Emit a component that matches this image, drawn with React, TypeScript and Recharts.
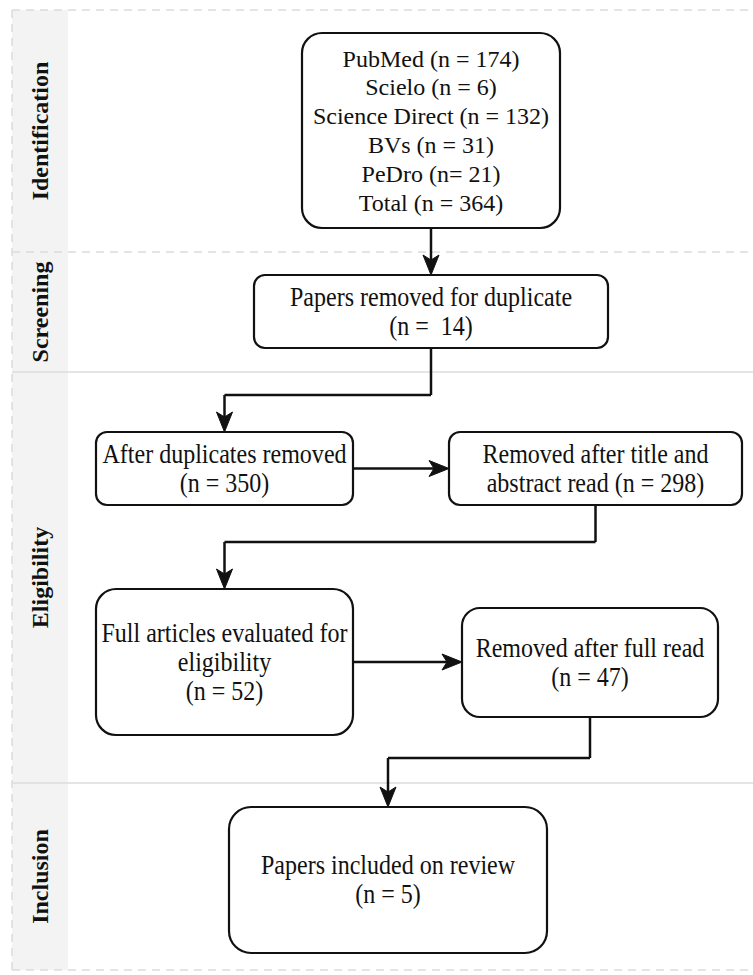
import React from "react";
import {
  ScatterChart, Scatter, XAxis, YAxis, ReferenceArea, ReferenceLine, ReferenceDot,
} from "recharts";

const W = 753;
const H = 975;
const SERIF = '"Liberation Serif", "Times New Roman", Times, serif';
const INK = "#111";
const RULE = "#dcdcdc";

// ---- data ----
const PHASES = ["Identification", "Screening", "Eligibility", "Inclusion"];

const SOURCE_TEXT = ["PubMed (n = {n})", "Scielo (n = {n})", "Science Direct (n = {n})", "BVs (n = {n})", "PeDro (n= {n})"];
const SOURCE_N = [174, 6, 132, 31, 21];
const TOTAL_TEXT = "Total (n = {n})";
const TOTAL_N = 364;

const STEP_IDS = ["dup", "after", "titleAbs", "full", "fullOut", "included"];
const STEP_TEXT = [
  ["Papers removed for duplicate", "(n =  {n})"],
  ["After duplicates removed", "(n = {n})"],
  ["Removed after title and", "abstract read (n = {n})"],
  ["Full articles evaluated for", "eligibility", "(n = {n})"],
  ["Removed after full read", "(n = {n})"],
  ["Papers included on review", "(n = {n})"],
];
const STEP_N = [14, 350, 298, 52, 47, 5];

const LINKS: [string, string][] = [
  ["search", "dup"],
  ["dup", "after"],
  ["after", "titleAbs"],
  ["titleAbs", "full"],
  ["full", "fullOut"],
  ["fullOut", "included"],
];

// ---- layout (diagram units, mapped through the chart scales) ----
const PHASE_Y = [10, 252, 372, 783, 970];
const BAND_X = [12, 68];
const DASHED_RULES = [true, true, false, false, true];

type Box = { x1: number; x2: number; y1: number; y2: number; r: number };
const BOX: Record<string, Box> = {
  search:   { x1: 302, x2: 560, y1: 33,  y2: 228, r: 20 },
  dup:      { x1: 254, x2: 608, y1: 275, y2: 348, r: 11 },
  after:    { x1: 96,  x2: 353, y1: 432, y2: 505, r: 11 },
  titleAbs: { x1: 449, x2: 742, y1: 432, y2: 505, r: 11 },
  full:     { x1: 96,  x2: 353, y1: 589, y2: 735, r: 20 },
  fullOut:  { x1: 462, x2: 718, y1: 608, y2: 717, r: 18 },
  included: { x1: 229, x2: 547, y1: 807, y2: 953, r: 22 },
};
// elbow height for links that turn; undefined = straight link
const ELBOW: Record<string, number | undefined> = {
  dup: undefined, after: 395, titleAbs: undefined, full: 542, fullOut: undefined, included: 758,
};

const ARROW_LEN = 20;
const ARROW_W = 16;
const ARROW_NOTCH = 5;

// first box is set in plain 24px, the others in a taller, narrowed face
const TEXT_STYLE: Record<string, { size: number; sx: number; lh: number; dy: number }> = {
  search: { size: 24, sx: 1, lh: 28.8, dy: 8 },
  step:   { size: 27, sx: 0.89, lh: 29, dy: 9 },
};

const fmt = (t: string, n: number) => t.replace("{n}", String(n));

function nodeLines(id: string): string[] {
  if (id === "search") {
    return [...SOURCE_TEXT.map((t, i) => fmt(t, SOURCE_N[i])), fmt(TOTAL_TEXT, TOTAL_N)];
  }
  const i = STEP_IDS.indexOf(id);
  return STEP_TEXT[i].map(t => fmt(t, STEP_N[i]));
}

type Pt = { x: number; y: number };

function route(from: string, to: string): { pts: Pt[]; angle: number } {
  const a = BOX[from], b = BOX[to];
  const ax = (a.x1 + a.x2) / 2, bx = (b.x1 + b.x2) / 2;
  const elbow = ELBOW[to];
  const back = ARROW_LEN - ARROW_NOTCH;
  if (b.x1 > a.x2) {
    const y = (a.y1 + a.y2) / 2;
    return { pts: [{ x: a.x2, y }, { x: b.x1 - back, y }], angle: 0 };
  }
  if (elbow === undefined || Math.abs(ax - bx) < 1) {
    return { pts: [{ x: ax, y: a.y2 }, { x: bx, y: b.y1 - back }], angle: 90 };
  }
  return {
    pts: [{ x: ax, y: a.y2 }, { x: ax, y: elbow }, { x: bx, y: elbow }, { x: bx, y: b.y1 - back }],
    angle: 90,
  };
}

function tipOf(from: string, to: string): Pt {
  const a = BOX[from], b = BOX[to];
  if (b.x1 > a.x2) return { x: b.x1, y: (a.y1 + a.y2) / 2 };
  return { x: (b.x1 + b.x2) / 2, y: b.y1 };
}

const NodeShape = (id: string) => (p: any) => {
  const { x, y, width, height } = p;
  const lines = nodeLines(id);
  const r = BOX[id].r;
  const ts = TEXT_STYLE[id === "search" ? "search" : "step"];
  const cx = x + width / 2;
  const cy = y + height / 2;
  const top = cy - ((lines.length - 1) * ts.lh) / 2;
  return (
    <g>
      <rect x={x} y={y} width={width} height={height} rx={r} ry={r}
        fill="#fff" stroke={INK} strokeWidth={2.2} />
      <g transform={`translate(${cx} 0) scale(${ts.sx} 1)`}>
        <text x={0} textAnchor="middle" fontFamily={SERIF} fontSize={ts.size} fill={INK}
          xmlSpace="preserve" style={{ whiteSpace: "pre" }}>
          {lines.map((l, i) => (
            <tspan key={i} x={0} y={top + i * ts.lh + ts.dy}>{l}</tspan>
          ))}
        </text>
      </g>
    </g>
  );
};

const PhaseShape = (name: string) => (p: any) => {
  const { x, y, width, height } = p;
  const cx = x + width / 2;
  const cy = y + height / 2;
  return (
    <g>
      <rect x={x} y={y} width={width} height={height} fill="#f3f3f3" />
      <text x={cx} y={cy} transform={`rotate(-90 ${cx} ${cy})`} textAnchor="middle"
        dominantBaseline="central" fontFamily={SERIF} fontWeight={700} fontSize={24} fill={INK}>
        {name}
      </text>
    </g>
  );
};

const ArrowShape = (angle: number) => (p: any) => {
  const { cx, cy } = p;
  const L = ARROW_LEN, w = ARROW_W / 2;
  return (
    <path transform={`translate(${cx} ${cy}) rotate(${angle})`}
      d={`M0,0 L${-L},${-w} L${-L + ARROW_NOTCH},0 L${-L},${w} Z`} fill={INK} stroke={INK}
      strokeWidth={1} />
  );
};

export default function App() {
  const nodeIds = ["search", ...STEP_IDS];
  return (
    <div style={{ position: "absolute", left: 0, top: 0, width: W, height: H, background: "#fff" }}>
      <ScatterChart width={W} height={H} margin={{ top: 0, right: 0, bottom: 0, left: 0 }}>
        <XAxis type="number" dataKey="x" domain={[0, W]} hide allowDataOverflow />
        <YAxis type="number" dataKey="y" domain={[0, H]} reversed hide allowDataOverflow />

        {PHASES.map((name, i) => (
          <ReferenceArea key={name} x1={BAND_X[0]} x2={BAND_X[1]} y1={PHASE_Y[i]} y2={PHASE_Y[i + 1]}
            shape={PhaseShape(name)} ifOverflow="visible" />
        ))}

        {PHASE_Y.map((y, i) => (
          <ReferenceLine key={"r" + i} segment={[{ x: BAND_X[0], y }, { x: W, y }]}
            stroke={RULE} strokeWidth={1.5} strokeDasharray={DASHED_RULES[i] ? "8 6" : undefined}
            ifOverflow="visible" />
        ))}
        <ReferenceLine segment={[{ x: BAND_X[0], y: PHASE_Y[0] }, { x: BAND_X[0], y: PHASE_Y[4] }]}
          stroke={RULE} strokeWidth={1.5} strokeDasharray="8 6" ifOverflow="visible" />

        {LINKS.map(([f, t]) => {
          const { pts } = route(f, t);
          return pts.slice(1).map((p, k) => (
            <ReferenceLine key={f + t + k} segment={[pts[k], p]} stroke={INK} strokeWidth={2.5}
              ifOverflow="visible" />
          ));
        })}

        {LINKS.map(([f, t]) => {
          const tip = tipOf(f, t);
          const { angle } = route(f, t);
          return (
            <ReferenceDot key={"a" + f + t} x={tip.x} y={tip.y} r={1} ifOverflow="visible"
              shape={ArrowShape(angle)} />
          );
        })}

        {nodeIds.map(id => {
          const b = BOX[id];
          return (
            <ReferenceArea key={id} x1={b.x1} x2={b.x2} y1={b.y1} y2={b.y2}
              shape={NodeShape(id)} ifOverflow="visible" />
          );
        })}

        <Scatter data={[]} isAnimationActive={false} />
      </ScatterChart>
    </div>
  );
}
